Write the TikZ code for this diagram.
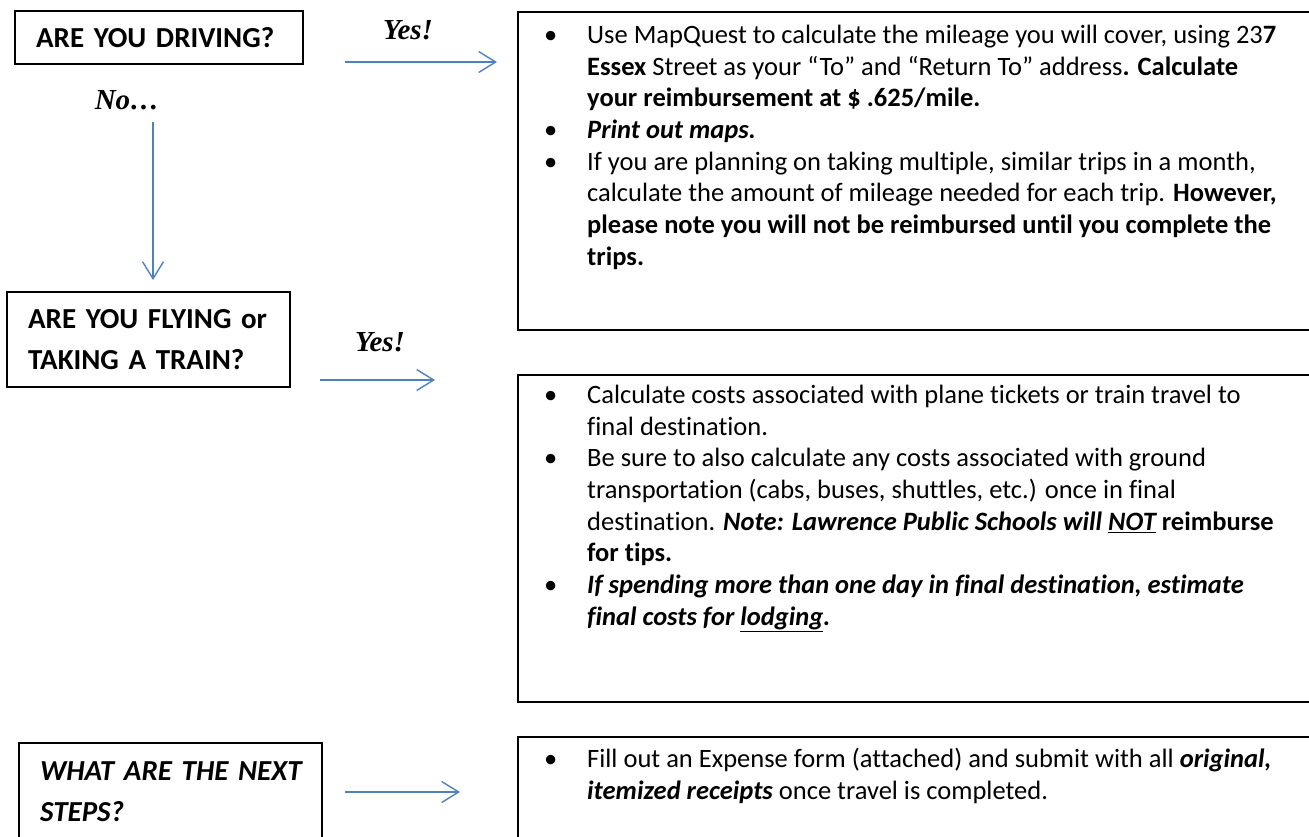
\documentclass[tikz,border=0pt]{standalone}
\usepackage{fontspec}
\setmainfont{Carlito}[Ligatures=NoCommon]
\newfontfamily\yesfont{Liberation Serif}
\usepackage{tikz}
\usetikzlibrary{arrows.meta}
\definecolor{flowblue}{RGB}{79,129,189}
\newcommand{\hd}{\fontsize{29}{41}\selectfont\bfseries}
\newcommand{\bd}{\fontsize{26.5}{31.7}\selectfont}
\newcommand{\bi}[1]{\textbf{\textit{#1}}}

\begin{document}
\begin{tikzpicture}[x=1pt,y=-1pt,
  >={Straight Barb[length=17pt,width=21pt]},
  flow/.style={flowblue,line width=1.4pt,->},
  qbox/.style={draw,line width=2.2pt,inner xsep=21pt,align=left,font=\hd,anchor=north west},
  abox/.style={draw,line width=2.2pt,anchor=north west,minimum width=810pt},
  answer/.style={font=\yesfont\fontsize{29}{32}\selectfont\bfseries\itshape},
  items/.style={anchor=north west,inner sep=0pt,font=\bd}]
       \useasboundingbox (0,0) rectangle (1309,837);
       % questions on the left
       \node[qbox,text width=246pt,minimum height=53pt] (drive) at (14,10) {\mbox{ARE YOU DRIVING?}};
       \node[qbox,text width=241pt,minimum height=95pt] (fly) at (6,291) {\mbox{ARE YOU FLYING or}\\\mbox{TAKING A TRAIN?}};
       \node[qbox,text width=261pt,inner ysep=19pt] (next) at (18,742) {\itshape\mbox{WHAT ARE THE NEXT}\\STEPS?};
       % answer boxes on the right
       \node[abox,minimum height=318pt] (drivebox) at (517,11) {};
       \node[abox,minimum height=327pt] (flybox) at (517,374) {};
       \node[abox,minimum height=130pt] (nextbox) at (517,736) {};
       \node[items] (drivelist) at (544,21) {%
         \begin{tabular}{@{}p{43pt}@{}l@{}}
         \textbullet & Use MapQuest to calculate the mileage you will cover, using 23\textbf{7}\\
          & \textbf{Essex} Street as your “To” and “Return To” address\textbf{. Calculate}\\
          & \textbf{your reimbursement at \$ .625/mile.}\\
         \textbullet & \bi{Print out maps.}\\
         \textbullet & If you are planning on taking multiple, similar trips in a month,\\
          & calculate the amount of mileage needed for each trip. \textbf{However,}\\
          & \textbf{please note you will not be reimbursed until you complete the}\\
          & \textbf{trips.}
         \end{tabular}};
       \node[items] (flylist) at (544,381) {%
         \begin{tabular}{@{}p{43pt}@{}l@{}}
         \textbullet & Calculate costs associated with plane tickets or train travel to\\
          & final destination.\\
         \textbullet & Be sure to also calculate any costs associated with ground\\
          & transportation (cabs, buses, shuttles, etc.) once in final\\
          & destination. \bi{Note: Lawrence Public Schools will \underline{NOT} }\textbf{reimburse}\\
          & \textbf{for tips.}\\
         \textbullet & \bi{If spending more than one day in final destination, estimate}\\
          & \bi{final costs for \underline{lodging}.}
         \end{tabular}};
       \node[items] (nextlist) at (544,745) {%
         \begin{tabular}{@{}p{43pt}@{}l@{}}
         \textbullet & Fill out an Expense form (attached) and submit with all \bi{original,}\\
          & \bi{itemized receipts} once travel is completed.
         \end{tabular}};
       % yes / no arrows
       \coordinate (yes1a) at (345,62);  \coordinate (yes1b) at (497,62);
       \coordinate (no1a)  at (153,122); \coordinate (no1b)  at (153,280);
       \coordinate (yes2a) at (320,380); \coordinate (yes2b) at (435,380);
       \coordinate (nexta) at (345,792); \coordinate (nextb) at (460,792);
       \draw[flow] (yes1a) -- (yes1b);
       \draw[flow] (no1a) -- (no1b);
       \draw[flow] (yes2a) -- (yes2b);
       \draw[flow] (nexta) -- (nextb);
       \node[answer] (yes1) at (408,30) {Yes!};
       \node[answer] (no1) at (127,100) {No…};
       \node[answer] (yes2) at (380,342) {Yes!};
\end{tikzpicture}
\end{document}
